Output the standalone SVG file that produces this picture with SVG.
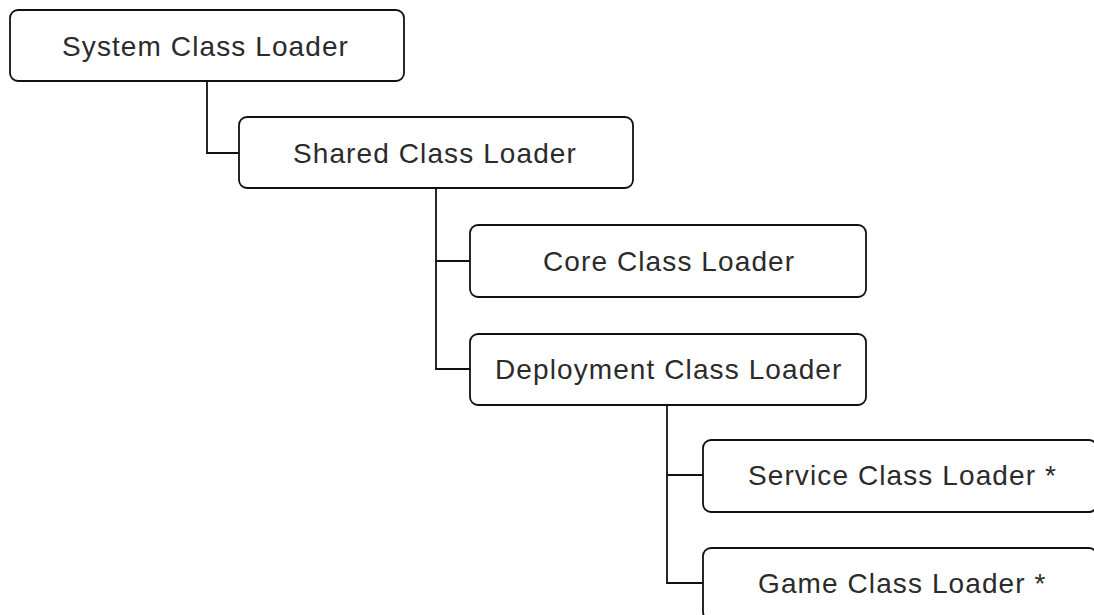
<svg xmlns="http://www.w3.org/2000/svg" width="1094" height="615" viewBox="0 0 1094 615">
<style>
.box{fill:#fff;stroke:#111;stroke-width:1.8}
.lbl{font-family:"Liberation Sans",Arial,sans-serif;font-size:28px;fill:#2b2b2b;letter-spacing:1.1px}
.con{fill:none;stroke:#111;stroke-width:1.8}
</style>
<rect width="1094" height="615" fill="#fff"/>
<g id="connectors">
<path class="con" d="M207,81 V153 H239"/>
<path class="con" d="M436,188 V369 H470 M436,261 H470"/>
<path class="con" d="M667,405 V583 H703 M667,475 H703"/>
</g>
<g id="system"><rect class="box" x="10" y="10" width="394" height="71" rx="8"/><text class="lbl" x="62" y="56">System Class Loader</text></g>
<g id="shared"><rect class="box" x="239" y="117" width="394" height="71" rx="8"/><text class="lbl" x="293" y="163">Shared Class Loader</text></g>
<g id="core"><rect class="box" x="470" y="225" width="396" height="72" rx="8"/><text class="lbl" x="543" y="271">Core Class Loader</text></g>
<g id="deployment"><rect class="box" x="470" y="334" width="396" height="71" rx="8"/><text class="lbl" x="495" y="379">Deployment Class Loader</text></g>
<g id="service"><rect class="box" x="703" y="440" width="394" height="72" rx="8"/><text class="lbl" x="748" y="485">Service Class Loader *</text></g>
<g id="game"><rect class="box" x="703" y="548" width="394" height="72" rx="8"/><text class="lbl" x="758" y="593">Game Class Loader *</text></g>
</svg>
